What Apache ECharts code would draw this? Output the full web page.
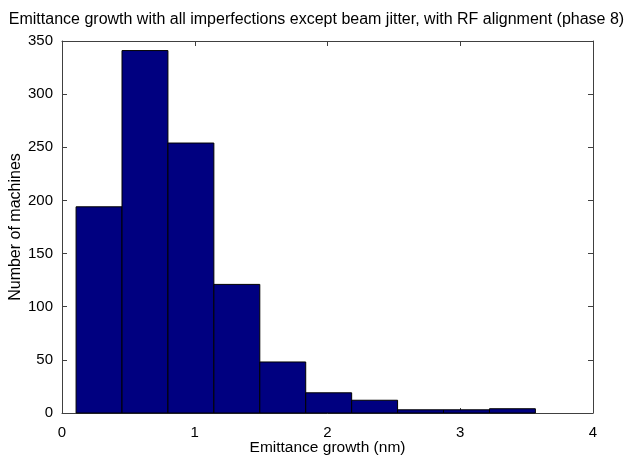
<!DOCTYPE html>
<html>
<head>
<meta charset="utf-8">
<script src="https://cdn.jsdelivr.net/npm/echarts@6/dist/echarts.min.js"></script>
<style>html,body{margin:0;padding:0;background:#fff}#c{width:633px;height:458px}</style>
</head>
<body>
<div id="c"></div>
<script>
var binEdges = [0.106, 0.452, 0.798, 1.144, 1.490, 1.836, 2.182, 2.528, 2.874, 3.220, 3.566];
var counts = [194, 341, 254, 121, 48, 19, 12, 3, 3, 4];
var xTicks = [0, 1, 2, 3, 4];
var yTicks = [0, 50, 100, 150, 200, 250, 300, 350];

var data = counts.map(function (c, i) { return [binEdges[i], binEdges[i + 1], c]; });
var font = 'Liberation Sans, Arial, Helvetica, sans-serif';
var chart = echarts.init(document.getElementById('c'));
var axisCol = '#404040';
chart.setOption({
  animation: false,
  title: {
    text: 'Emittance growth with all imperfections except beam jitter, with RF alignment (phase 8)',
    left: 'center', top: 7,
    textStyle: { fontFamily: font, fontSize: 16, fontWeight: 'normal', color: '#000' }
  },
  grid: { left: 62, right: 40, top: 41, bottom: 45, outerBoundsMode: 'none', containLabel: false },
  xAxis: [{
    type: 'value', min: 0, max: 4, interval: 1,
    name: 'Emittance growth (nm)', nameLocation: 'middle', nameGap: 27, nameMoveOverlap: false,
    nameTextStyle: { fontFamily: font, fontSize: 15.5, color: '#000' },
    axisLine: { onZero: false, lineStyle: { color: axisCol, width: 1 } },
    axisTick: { inside: true, length: 5, lineStyle: { color: axisCol } },
    axisLabel: { fontFamily: font, fontSize: 15, color: '#000', margin: 12 },
    splitLine: { show: false }
  }, {
    type: 'value', position: 'top', min: 0, max: 4, interval: 1,
    axisLine: { onZero: false, lineStyle: { color: axisCol, width: 1 } },
    axisTick: { inside: true, length: 5, lineStyle: { color: axisCol } },
    axisLabel: { show: false }, splitLine: { show: false }
  }],
  yAxis: [{
    type: 'value', min: 0, max: 350, interval: 50,
    name: 'Number of machines', nameLocation: 'middle', nameGap: 38, nameMoveOverlap: false,
    nameTextStyle: { fontFamily: font, fontSize: 16, color: '#000' },
    axisLine: { show: true, onZero: false, lineStyle: { color: axisCol, width: 1 } },
    axisTick: { show: true, inside: true, length: 5, lineStyle: { color: axisCol } },
    axisLabel: { fontFamily: font, fontSize: 15, color: '#000', margin: 9 },
    splitLine: { show: false }
  }, {
    type: 'value', position: 'right', min: 0, max: 350, interval: 50,
    axisLine: { show: true, onZero: false, lineStyle: { color: axisCol, width: 1 } },
    axisTick: { show: true, inside: true, length: 5, lineStyle: { color: axisCol } },
    axisLabel: { show: false }, splitLine: { show: false }
  }],
  series: [{
    type: 'custom',
    xAxisIndex: 0, yAxisIndex: 0,
    data: data,
    renderItem: function (params, api) {
      var p0 = api.coord([api.value(0), api.value(2)]);
      var p1 = api.coord([api.value(1), 0]);
      return {
        type: 'rect',
        shape: { x: p0[0], y: p0[1], width: p1[0] - p0[0], height: p1[1] - p0[1] },
        style: { fill: '#000080', stroke: '#000000', lineWidth: 1 }
      };
    },
    encode: { x: [0, 1], y: 2 },
    z: 1
  }]
});
</script>
</body>
</html>
